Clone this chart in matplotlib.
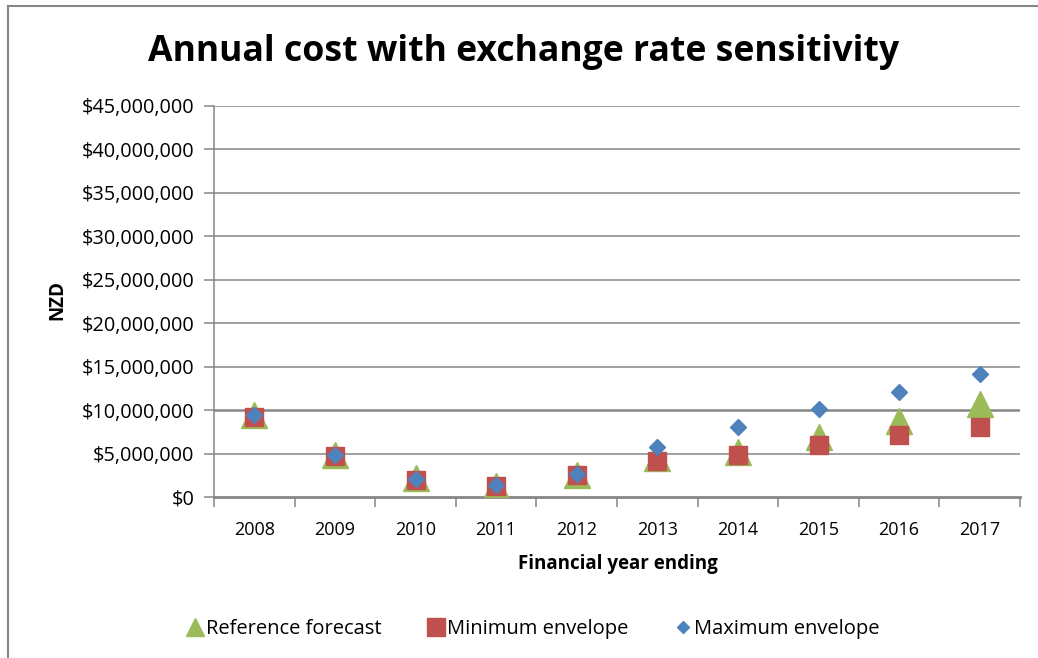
import matplotlib
matplotlib.use("Agg")
import matplotlib.pyplot as plt
from matplotlib.ticker import FuncFormatter, FixedLocator
from matplotlib.lines import Line2D

years = ["2008", "2009", "2010", "2011", "2012", "2013", "2014", "2015", "2016", "2017"]
reference_forecast = [9.38e6, 4.83e6, 2.15e6, 1.29e6, 2.55e6, 4.5e6, 5.2e6, 6.9e6, 8.7e6, 10.7e6]
minimum_envelope = [9.2e6, 4.75e6, 1.96e6, 1.23e6, 2.53e6, 4.18e6, 4.8e6, 5.95e6, 7.1e6, 8.1e6]
maximum_envelope = [9.44e6, 4.83e6, 2.07e6, 1.34e6, 2.61e6, 5.72e6, 8.09e6, 10.13e6, 12.1e6, 14.1e6]
y_ticks = [0, 5e6, 10e6, 15e6, 20e6, 25e6, 30e6, 35e6, 40e6, 45e6]

plt.rcParams['font.family'] = ['Open Sans', 'DejaVu Sans']

W, H = 1038, 658
fig = plt.figure(figsize=(W / 100, H / 100), dpi=100)
ax = fig.add_axes([214 / W, 1 - 497 / H, (1020 - 214) / W, (497 - 106) / H])

x = list(range(len(years)))
green = "#9BBB59"
red = "#C0504D"
blue = "#4F81BD"

ax.plot(x, reference_forecast, linestyle="none", marker="^", markersize=19,
        color=green, markeredgecolor=green, zorder=3)
ax.plot(x, minimum_envelope, linestyle="none", marker="s", markersize=13,
        color=red, markeredgecolor=red, zorder=4)
ax.plot(x, maximum_envelope, linestyle="none", marker="D", markersize=8,
        color=blue, markeredgecolor=blue, zorder=5)

ax.set_xlim(-0.5, len(years) - 0.5)
ax.set_ylim(0, 45e6)
ax.set_yticks(y_ticks)
ax.yaxis.set_major_formatter(FuncFormatter(lambda v, p: "${:,.0f}".format(v)))
for yt in y_ticks[1:]:
    ax.axhline(yt, color="#868686", linewidth=1.8 if yt == 10e6 else 1.1, zorder=1)

ax.set_xticks(x)
ax.set_xticklabels(years)
ax.xaxis.set_minor_locator(FixedLocator([i - 0.5 for i in range(len(years) + 1)]))
ax.tick_params(axis="x", which="major", length=0, pad=17, labelsize=13)
ax.tick_params(axis="x", which="minor", length=7, color="#868686", width=1.1)
ax.tick_params(axis="y", length=7, color="#868686", width=1.1, labelsize=14.3, pad=7)

for s in ["top", "right"]:
    ax.spines[s].set_visible(False)
ax.spines["left"].set_color("#868686")
ax.spines["bottom"].set_color("#868686")
ax.spines["bottom"].set_linewidth(2)
ax.spines["left"].set_linewidth(1.1)

fig.text(524 / W, 1 - 52 / H, "Annual cost with exchange rate sensitivity",
         ha="center", va="center", fontsize=25.7, fontweight="bold")
fig.text(57 / W, 1 - 300 / H, "NZD", ha="center", va="center", rotation=90,
         fontsize=13.5, fontweight="bold")
fig.text(618 / W, 1 - 564 / H, "Financial year ending", ha="center", va="center",
         fontsize=13.5, fontweight="bold")

handles = [
    Line2D([], [], linestyle="none", marker="^", markersize=13, color=green),
    Line2D([], [], linestyle="none", marker="s", markersize=13, color=red),
    Line2D([], [], linestyle="none", marker="D", markersize=6, color=blue),
]
fig.legend(handles, ["Reference forecast", "Minimum envelope", "Maximum envelope"],
           loc="center", bbox_to_anchor=(532 / W, 1 - 629 / H), ncol=3, frameon=False,
           fontsize=14.5, handletextpad=0.05, columnspacing=2.2, handlelength=1.0)

# outer chart border (top & left visible)
fig.add_artist(Line2D([8 / W, 8 / W], [0, 1 - 6 / H], transform=fig.transFigure,
                      color="#868686", linewidth=1.5))
fig.add_artist(Line2D([8 / W, 1], [1 - 6 / H, 1 - 6 / H], transform=fig.transFigure,
                      color="#868686", linewidth=1.5))

fig.savefig("out.png", dpi=100)
